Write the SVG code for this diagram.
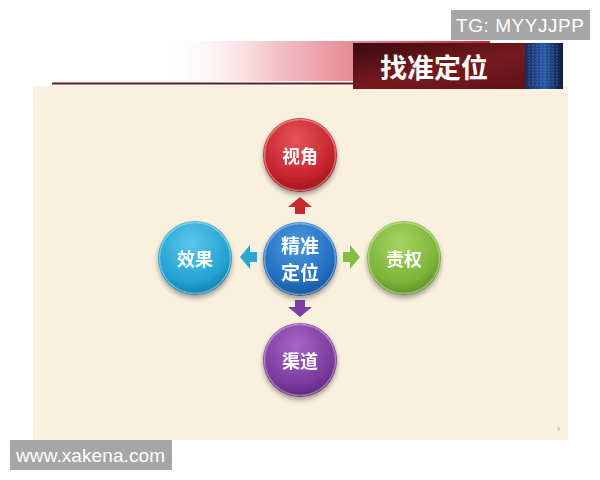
<svg xmlns="http://www.w3.org/2000/svg" width="600" height="480" viewBox="0 0 600 480">
<defs>
<style>
.lbl{font-family:"Noto Sans CJK SC","Noto Sans",sans-serif;font-weight:bold;font-size:18px;fill:#ffffff;text-anchor:middle;dominant-baseline:central}
.wm{font-family:"Liberation Sans",Arial,sans-serif;font-size:19px;fill:#ffffff}
.rim{fill:none;stroke:#ffffff;stroke-opacity:0.35;stroke-width:1.5}
</style>
<linearGradient id="band" x1="0" y1="0" x2="1" y2="0">
<stop offset="0" stop-color="#ffffff" stop-opacity="0"/>
<stop offset="0.35" stop-color="#f2c2c8"/>
<stop offset="1" stop-color="#d42636"/>
</linearGradient>
<linearGradient id="title" x1="0" y1="0" x2="1" y2="1">
<stop offset="0" stop-color="#3a0a0e"/>
<stop offset="0.5" stop-color="#761a20"/>
<stop offset="1" stop-color="#5a1015"/>
</linearGradient>
<linearGradient id="matrix" x1="0" y1="0" x2="1" y2="0">
<stop offset="0" stop-color="#1a2a5a"/>
<stop offset="0.5" stop-color="#2a5aa8"/>
<stop offset="1" stop-color="#0c1a3a"/>
</linearGradient>
<radialGradient id="gRed" cx="0.45" cy="0.3" r="0.75">
<stop offset="0" stop-color="#e6545a"/>
<stop offset="0.7" stop-color="#c4232b"/>
<stop offset="1" stop-color="#8e141a"/>
</radialGradient>
<radialGradient id="gBlue" cx="0.45" cy="0.3" r="0.75">
<stop offset="0" stop-color="#4d98dc"/>
<stop offset="0.7" stop-color="#2170c0"/>
<stop offset="1" stop-color="#164e8e"/>
</radialGradient>
<radialGradient id="gCyan" cx="0.45" cy="0.3" r="0.75">
<stop offset="0" stop-color="#5cc6ea"/>
<stop offset="0.7" stop-color="#22a2d2"/>
<stop offset="1" stop-color="#14739e"/>
</radialGradient>
<radialGradient id="gGreen" cx="0.45" cy="0.3" r="0.75">
<stop offset="0" stop-color="#a6d462"/>
<stop offset="0.7" stop-color="#7bb437"/>
<stop offset="1" stop-color="#568524"/>
</radialGradient>
<radialGradient id="gPurple" cx="0.45" cy="0.3" r="0.75">
<stop offset="0" stop-color="#a466c4"/>
<stop offset="0.7" stop-color="#7b3a9e"/>
<stop offset="1" stop-color="#55236f"/>
</radialGradient>
<filter id="sh" x="-30%" y="-30%" width="160%" height="170%">
<feGaussianBlur in="SourceAlpha" stdDeviation="2.5"/>
<feOffset dy="3"/>
<feComponentTransfer><feFuncA type="linear" slope="0.35"/></feComponentTransfer>
<feMerge><feMergeNode/><feMergeNode in="SourceGraphic"/></feMerge>
</filter>
<path id="arrowUp" d="M0,-9 L12,1 L5,1 L5,8 L-5,8 L-5,1 L-12,1 Z"/>
</defs>

<rect x="0" y="0" width="600" height="480" fill="#ffffff"/>

<!-- slide background -->
<rect x="33" y="86" width="535" height="354" fill="#f9f0dd"/>

<!-- header -->
<g id="header">
<rect x="160" y="41" width="330" height="40" fill="url(#band)"/>
<line x1="52" y1="83.5" x2="353" y2="83.5" stroke="#6a1a1e" stroke-width="2"/>
<rect x="353" y="43" width="210" height="46" fill="url(#title)"/>
<rect x="525" y="43" width="38" height="46" fill="url(#matrix)"/>
<g stroke="#8fc0ff" stroke-opacity="0.5" stroke-width="0.8" stroke-dasharray="1.5 1.5">
<line x1="529" y1="45" x2="529" y2="87"/><line x1="533" y1="45" x2="533" y2="87"/>
<line x1="537" y1="45" x2="537" y2="87"/><line x1="541" y1="45" x2="541" y2="87"/>
<line x1="545" y1="45" x2="545" y2="87"/><line x1="549" y1="45" x2="549" y2="87"/>
<line x1="553" y1="45" x2="553" y2="87"/><line x1="557" y1="45" x2="557" y2="87"/>
</g>
<text x="434" y="66" class="lbl" style="font-size:27px">找准定位</text>
</g>

<!-- connectors -->
<g id="connectors">
<use href="#arrowUp" transform="translate(300,206)" fill="#c42a30"/>
<use href="#arrowUp" transform="translate(300,308) rotate(180)" fill="#7f3fa2"/>
<use href="#arrowUp" transform="translate(249,257) rotate(-90)" fill="#2aa6cf"/>
<use href="#arrowUp" transform="translate(351,257) rotate(90)" fill="#86bd3f"/>
</g>

<g id="node-top" filter="url(#sh)">
<circle cx="300" cy="155" r="37" fill="url(#gRed)"/>
<circle cx="300" cy="155" r="35.5" class="rim"/>
<text x="300" y="155" class="lbl">视角</text>
</g>
<g id="node-left" filter="url(#sh)">
<circle cx="195" cy="258" r="37" fill="url(#gCyan)"/>
<circle cx="195" cy="258" r="35.5" class="rim"/>
<text x="195" y="258" class="lbl">效果</text>
</g>
<g id="node-center" filter="url(#sh)">
<circle cx="300" cy="259" r="37" fill="url(#gBlue)"/>
<circle cx="300" cy="259" r="35.5" class="rim"/>
<text x="300" y="244" class="lbl" style="font-size:19px">精准</text>
<text x="300" y="271" class="lbl" style="font-size:19px">定位</text>
</g>
<g id="node-right" filter="url(#sh)">
<circle cx="404" cy="258" r="37" fill="url(#gGreen)"/>
<circle cx="404" cy="258" r="35.5" class="rim"/>
<text x="404" y="258" class="lbl">责权</text>
</g>
<g id="node-bottom" filter="url(#sh)">
<circle cx="300" cy="360" r="37" fill="url(#gPurple)"/>
<circle cx="300" cy="360" r="35.5" class="rim"/>
<text x="300" y="360" class="lbl">渠道</text>
</g>

<text x="557" y="431" font-family="Liberation Sans,sans-serif" font-size="5" fill="#999999">4</text>

<!-- watermarks -->
<rect x="451" y="10" width="139" height="30" fill="#a6a6a6"/>
<text x="456" y="32" class="wm" textLength="128">TG: MYYJJPP</text>
<rect x="10" y="440" width="162" height="30" fill="#a6a6a6"/>
<text x="16" y="462" class="wm" textLength="149">www.xakena.com</text>
</svg>
